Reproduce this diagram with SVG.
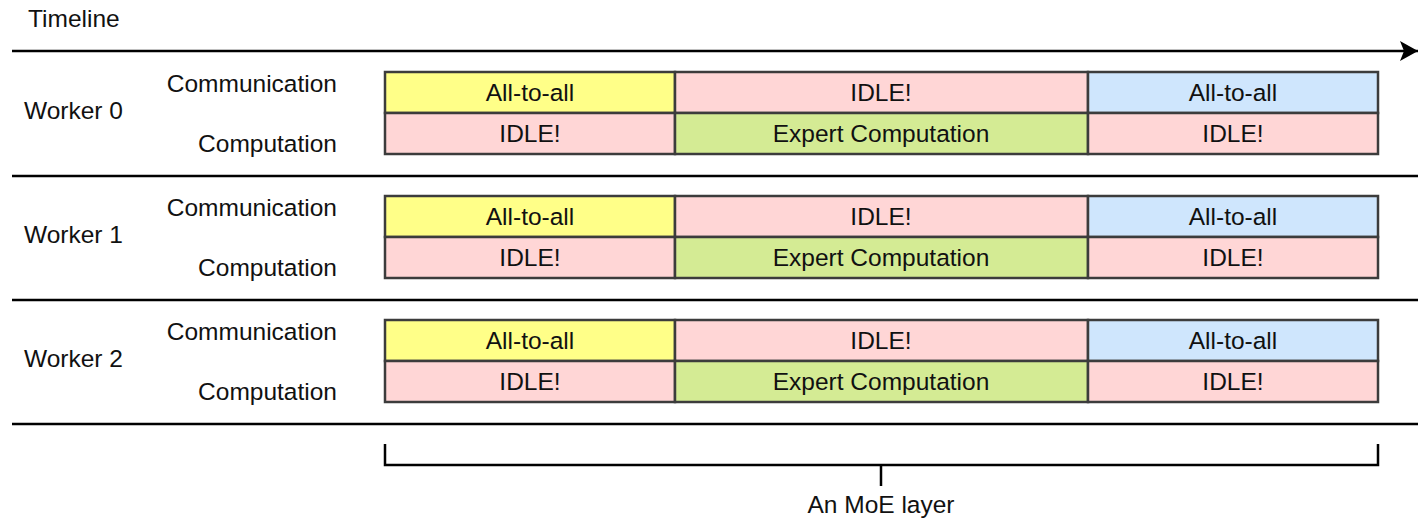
<svg xmlns="http://www.w3.org/2000/svg" width="1428" height="524" viewBox="0 0 1428 524">
<style>
text{font-family:"Liberation Sans",Arial,sans-serif;font-size:24.5px;fill:#111}
.c{text-anchor:middle}
.r{text-anchor:end}
.cell{stroke:#3c3c3c;stroke-width:2.5}
.y{fill:#ffff88}.p{fill:#ffd6d6}.g{fill:#d4eb94}.b{fill:#cfe6fd}
.ln{stroke:#000;stroke-width:2.5;fill:none}
</style>
<defs>
<marker id="ah" viewBox="0 0 20 20" refX="18" refY="10" markerWidth="20" markerHeight="20" markerUnits="userSpaceOnUse" orient="auto">
<path d="M0,0 L18,10 L0,20 L4,10 Z" fill="#000"/>
</marker>
<g id="rowtpl">
<rect class="cell y" x="385" y="72" width="290" height="41"/>
<rect class="cell p" x="675" y="72" width="413" height="41"/>
<rect class="cell b" x="1088" y="72" width="290" height="41"/>
<rect class="cell p" x="385" y="113" width="290" height="41"/>
<rect class="cell g" x="675" y="113" width="413" height="41"/>
<rect class="cell p" x="1088" y="113" width="290" height="41"/>
<text class="c" x="530" y="100.5">All-to-all</text>
<text class="c" x="881" y="100.5">IDLE!</text>
<text class="c" x="1233" y="100.5">All-to-all</text>
<text class="c" x="530" y="141.5">IDLE!</text>
<text class="c" x="881" y="141.5">Expert Computation</text>
<text class="c" x="1233" y="141.5">IDLE!</text>
<text class="r" x="337" y="91.5">Communication</text>
<text class="r" x="337" y="151.5">Computation</text>
</g>
</defs>
<text x="28" y="26.5">Timeline</text>
<g id="worker0">
<use href="#rowtpl"/>
<text x="24" y="119">Worker 0</text>
</g>
<g id="worker1" transform="translate(0,124)">
<use href="#rowtpl"/>
<text x="24" y="119">Worker 1</text>
</g>
<g id="worker2" transform="translate(0,248)">
<use href="#rowtpl"/>
<text x="24" y="119">Worker 2</text>
</g>
<g id="connectors">
<line class="ln" x1="12" y1="51" x2="1418" y2="51" stroke-width="3" marker-end="url(#ah)"/>
<line class="ln" x1="12" y1="176" x2="1418" y2="176"/>
<line class="ln" x1="12" y1="300" x2="1418" y2="300"/>
<line class="ln" x1="12" y1="424" x2="1418" y2="424"/>
<path class="ln" d="M385,444 V465 H1378 V444" stroke-width="2"/>
<line class="ln" x1="881" y1="465" x2="881" y2="486" stroke-width="2"/>
</g>
<text class="c" x="881" y="513">An MoE layer</text>
</svg>
